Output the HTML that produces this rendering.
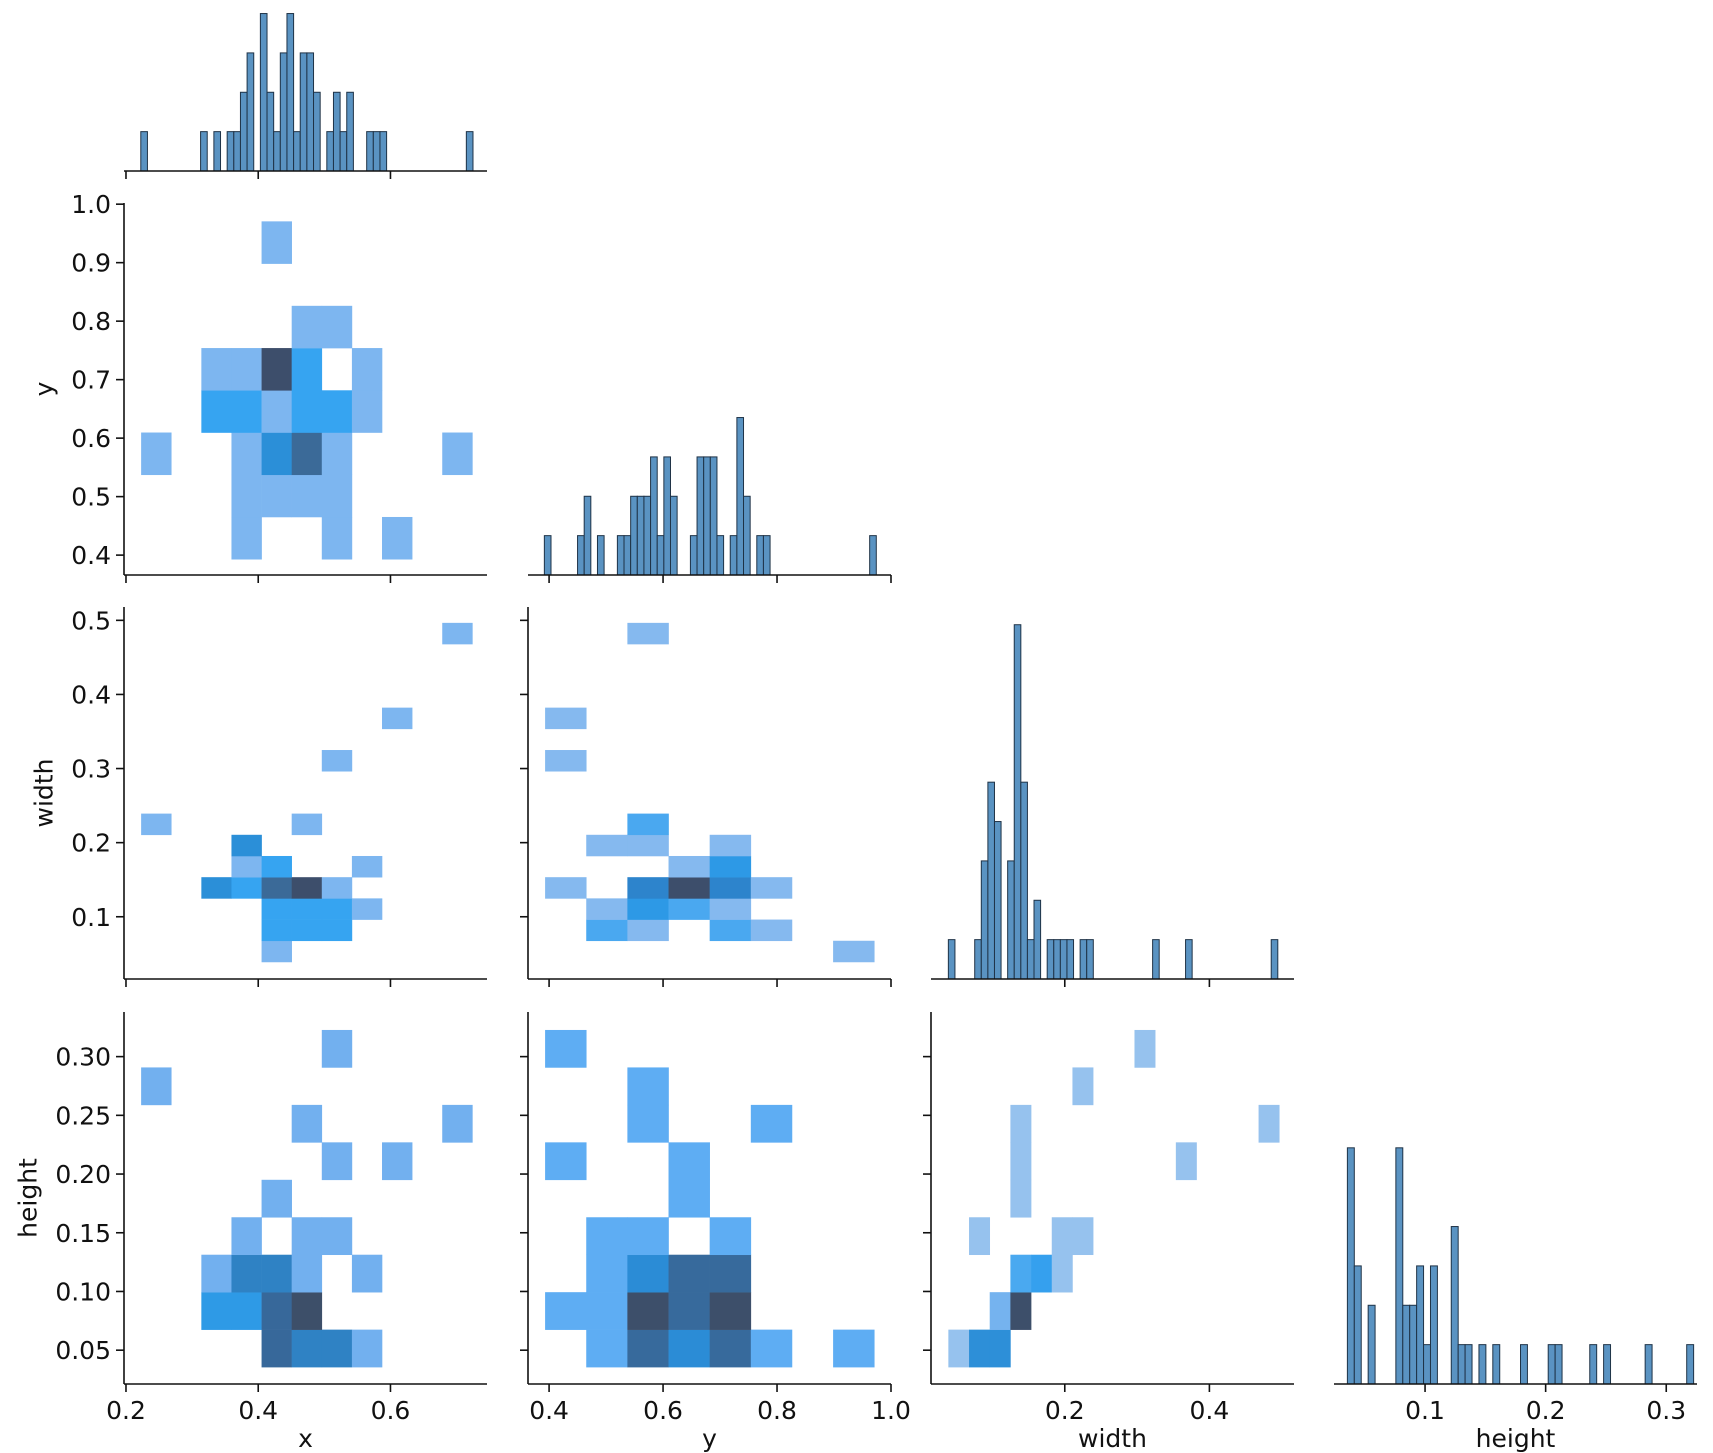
<!DOCTYPE html>
<html><head><meta charset="utf-8"><style>
html,body{margin:0;padding:0;background:#fff;}
svg{display:block;}
text{font-family:"DejaVu Sans","Liberation Sans",sans-serif;font-size:25px;fill:#111;}
</style></head>
<body>
<svg id="chart" width="1713" height="1453" viewBox="0 0 1713 1453" xmlns="http://www.w3.org/2000/svg"></svg>
<script>
// ---------- data ----------
const varNames = ['x','y','width','height'];
const xHistRange = [0.2224, 0.7248];
const xHistCounts = {0:1,9:1,11:1,13:1,14:1,15:2,16:3,18:4,19:2,20:1,21:3,22:4,23:1,24:3,25:3,26:2,28:1,29:2,30:1,31:2,34:1,35:1,36:1,49:1};
const yHistRange = [0.3917, 0.9742];
const yHistCounts = {0:1,5:1,6:2,8:1,11:1,12:1,13:2,14:2,15:2,16:3,17:1,18:3,19:2,22:1,23:3,24:3,25:3,26:1,28:1,29:4,30:2,32:1,33:1,49:1};
const wHistRange = [0.039, 0.4946];
const wHistCounts = {0:1,4:1,5:3,6:5,7:4,9:3,10:9,11:5,12:1,13:2,15:1,16:1,17:1,18:1,20:1,21:1,31:1,36:1,49:1};
const hHistRange = [0.0356, 0.3227];
const hHistCounts = {0:6,1:3,3:2,7:6,8:2,9:2,10:3,11:1,12:3,15:4,16:1,17:1,19:1,21:1,25:1,29:1,30:1,35:1,37:1,43:1,49:1};

const xBins2d = [0.2229, 0.04554, 11];
const yBins2d = [0.393, 0.0722, 8];
const wBins2d = [0.039, 0.0286, 16];
const hBins2d = [0.0356, 0.0319, 9];

const levelsXY = [
 [0,0,0,1,0,0,1,0,1,0,0],[0,0,0,1,1,1,1,0,0,0,0],[1,0,0,1,3,4,1,0,0,0,1],[0,0,2,2,1,2,2,1,0,0,0],
 [0,0,1,1,5,2,0,1,0,0,0],[0,0,0,0,0,1,1,0,0,0,0],[0,0,0,0,0,0,0,0,0,0,0],[0,0,0,0,1,0,0,0,0,0,0]];
const levelsXW = [
 [0,0,0,0,1,0,0,0,0,0,0],[0,0,0,0,2,2,2,0,0,0,0],[0,0,0,0,2,2,2,1,0,0,0],[0,0,3,2,4,5,1,0,0,0,0],
 [0,0,0,1,2,0,0,1,0,0,0],[0,0,0,3,0,0,0,0,0,0,0],[1,0,0,0,0,1,0,0,0,0,0],[0,0,0,0,0,0,0,0,0,0,0],
 [0,0,0,0,0,0,0,0,0,0,0],[0,0,0,0,0,0,1,0,0,0,0],[0,0,0,0,0,0,0,0,0,0,0],[0,0,0,0,0,0,0,0,1,0,0],
 [0,0,0,0,0,0,0,0,0,0,0],[0,0,0,0,0,0,0,0,0,0,0],[0,0,0,0,0,0,0,0,0,0,0],[0,0,0,0,0,0,0,0,0,0,1]];
const levelsYW = [
 [0,0,0,0,0,0,0,1],[0,2,1,0,2,1,0,0],[0,1,3,2,1,0,0,0],[1,0,4,5,4,1,0,0],
 [0,0,0,1,3,0,0,0],[0,1,1,0,1,0,0,0],[0,0,2,0,0,0,0,0],[0,0,0,0,0,0,0,0],
 [0,0,0,0,0,0,0,0],[1,0,0,0,0,0,0,0],[0,0,0,0,0,0,0,0],[1,0,0,0,0,0,0,0],
 [0,0,0,0,0,0,0,0],[0,0,0,0,0,0,0,0],[0,0,0,0,0,0,0,0],[0,0,1,0,0,0,0,0]];
const levelsXH = [
 [0,0,0,0,4,3,3,1,0,0,0],[0,0,2,2,4,5,0,0,0,0,0],[0,0,1,3,3,1,0,1,0,0,0],[0,0,0,1,0,1,1,0,0,0,0],
 [0,0,0,0,1,0,0,0,0,0,0],[0,0,0,0,0,0,1,0,1,0,0],[0,0,0,0,0,1,0,0,0,0,1],[1,0,0,0,0,0,0,0,0,0,0],
 [0,0,0,0,0,0,1,0,0,0,0]];
const levelsYH = [
 [0,1,4,3,4,1,0,1],[1,1,5,4,5,0,0,0],[0,1,3,4,4,0,0,0],[0,1,1,0,1,0,0,0],
 [0,0,0,1,0,0,0,0],[1,0,0,1,0,0,0,0],[0,0,1,0,0,1,0,0],[0,0,1,0,0,0,0,0],[1,0,0,0,0,0,0,0]];
const levelsWH = [
 [1,5,5,0,0,0,0,0,0,0,0,0,0,0,0,0],[0,0,2,6,0,0,0,0,0,0,0,0,0,0,0,0],[0,0,0,3,4,1,0,0,0,0,0,0,0,0,0,0],
 [0,1,0,0,0,1,1,0,0,0,0,0,0,0,0,0],[0,0,0,1,0,0,0,0,0,0,0,0,0,0,0,0],[0,0,0,1,0,0,0,0,0,0,0,1,0,0,0,0],
 [0,0,0,1,0,0,0,0,0,0,0,0,0,0,0,1],[0,0,0,0,0,0,1,0,0,0,0,0,0,0,0,0],[0,0,0,0,0,0,0,0,0,1,0,0,0,0,0,0]];

const xTicks = [0.2,0.4,0.6];
const yTicks = [0.4,0.5,0.6,0.7,0.8,0.9,1.0];
const yTicksX = [0.4,0.6,0.8,1.0];
const wTicks = [0.1,0.2,0.3,0.4,0.5];
const wTicksX = [0.2,0.4];
const hTicks = [0.05,0.10,0.15,0.20,0.25,0.30];
const hTicksX = [0.1,0.2,0.3];

// ---------- layout ----------
const NS='http://www.w3.org/2000/svg';
const svg=document.getElementById('chart');
const colL=[124,528,931,1334], W=363;
const rowB=[171,575,979,1384], H=372;
const colDom=[[0.197,0.746],[0.363,1.0],[0.015,0.517],[0.0245,0.3255]];
const rowDom=[null,[0.366,1.002],[0.016,0.518],[0.0212,0.338]];
const countMax=9.45;
function sx(c,v){return colL[c]+(v-colDom[c][0])/(colDom[c][1]-colDom[c][0])*W;}
function sy(r,v){return rowB[r]-(v-rowDom[r][0])/(rowDom[r][1]-rowDom[r][0])*H;}
function sc(r,n){return rowB[r]-n/countMax*H;}
function mk(tag,attrs,parent){const e=document.createElementNS(NS,tag);for(const k in attrs)e.setAttribute(k,attrs[k]);(parent||svg).appendChild(e);return e;}

function heat(r,c,xb,yb,lv,pal,name){
  const g=mk('g',{});
  
  
  for(let j=0;j<lv.length;j++)for(let i=0;i<lv[j].length;i++){
    const L=lv[j][i]; if(!L)continue;
    const x0=sx(c,xb[0]+i*xb[1]), x1=sx(c,xb[0]+(i+1)*xb[1]);
    const y0=sy(r,yb[0]+j*yb[1]), y1=sy(r,yb[0]+(j+1)*yb[1]);
    const e=mk('rect',{x:x0,y:y1,width:x1-x0+0.3,height:y0-y1+0.3,fill:pal[L]},g);
    
    
  }
}
function hist(r,c,range,counts,name){
  const g=mk('g',{});
  
  
  const bw=(range[1]-range[0])/50;
  for(const k in counts){
    const i=+k, x0=sx(c,range[0]+i*bw), x1=sx(c,range[0]+(i+1)*bw), y=sc(r,counts[k]);
    const e=mk('rect',{x:x0,y:y,width:x1-x0,height:rowB[r]-y,fill:'#5a93c2','stroke':'#1f3347','stroke-width':1},g);
    
    
  }
}
function axisX(r,c,ticks,labels,fmt){
  const g=mk('g',{});
  
  
  mk('line',{x1:colL[c],x2:colL[c]+W,y1:rowB[r],y2:rowB[r],stroke:'#111','stroke-width':1.6},g);
  for(const t of ticks){
    const x=sx(c,t);
    mk('line',{x1:x,x2:x,y1:rowB[r],y2:rowB[r]+8,stroke:'#111','stroke-width':1.6},g);
    if(labels){const tx=mk('text',{x:x,y:1419,'text-anchor':'middle'},g);tx.textContent=t.toFixed(fmt);}
  }
}
function axisY(r,c,ticks,labels,fmt){
  const g=mk('g',{});
  
  
  mk('line',{x1:colL[c],x2:colL[c],y1:rowB[r]-H,y2:rowB[r],stroke:'#111','stroke-width':1.6},g);
  for(const t of ticks){
    const y=sy(r,t);
    mk('line',{x1:colL[c]-8,x2:colL[c],y1:y,y2:y,stroke:'#111','stroke-width':1.6},g);
    if(labels){const tx=mk('text',{x:colL[c]-13,y:y+9,'text-anchor':'end'},g);tx.textContent=t.toFixed(fmt);}
  }
}

const palA=[null,'#7db6f0','#36a4f1','#2b8fd8','#3b6a98','#3d4e6b'];
const palYW=[null,'#85b9ef','#4aa8f0','#2d99e6','#2d84cc','#3d4e6b'];
const palXH=[null,'#72b0ef','#2e9ae6','#2f82c4','#37689a','#3d4f69'];
const palYH=[null,'#5eadf3','#5eadf3','#2b8cd6','#376a9c','#3d4f6a'];
const palWH=[null,'#96c2ee','#75b3ef','#4aa9f0','#35a0ee','#2d8fd8','#3d4f6a'];

hist(0,0,xHistRange,xHistCounts,'hist-x');
hist(1,1,yHistRange,yHistCounts,'hist-y');
hist(2,2,wHistRange,wHistCounts,'hist-width');
hist(3,3,hHistRange,hHistCounts,'hist-height');
heat(1,0,xBins2d,yBins2d,levelsXY,palA,'heatmap-x-y');
heat(2,0,xBins2d,wBins2d,levelsXW,palA,'heatmap-x-width');
heat(2,1,yBins2d,wBins2d,levelsYW,palYW,'heatmap-y-width');
heat(3,0,xBins2d,hBins2d,levelsXH,palXH,'heatmap-x-height');
heat(3,1,yBins2d,hBins2d,levelsYH,palYH,'heatmap-y-height');
heat(3,2,wBins2d,hBins2d,levelsWH,palWH,'heatmap-width-height');

axisX(0,0,xTicks,false,1); axisX(1,0,xTicks,false,1); axisX(2,0,xTicks,false,1); axisX(3,0,xTicks,true,1);
axisX(1,1,yTicksX,false,1); axisX(2,1,yTicksX,false,1); axisX(3,1,yTicksX,true,1);
axisX(2,2,wTicksX,false,1); axisX(3,2,wTicksX,true,1);
axisX(3,3,hTicksX,true,1);
axisY(1,0,yTicks,true,1); axisY(2,0,wTicks,true,1); axisY(3,0,hTicks,true,2);
axisY(2,1,wTicks,false,1); axisY(3,1,hTicks,false,2); axisY(3,2,hTicks,false,2);

const xtNames=['x-axis-title','y-axis-title-bottom','width-axis-title','height-axis-title'];
for(let i=0;i<4;i++){const t=mk('text',{x:colL[i]+W/2,y:1447,'text-anchor':'middle'});t.textContent=varNames[i];
  
  }
const ylab=[['y',1,44],['width',2,44],['height',3,28]];
for(const [n,r,x] of ylab){const cy=rowB[r]-H/2;const t=mk('text',{x:x,y:cy,'text-anchor':'middle',transform:'rotate(-90 '+x+' '+cy+')','dominant-baseline':'central'});t.textContent=n;
  
  }
</script>
</body></html>
